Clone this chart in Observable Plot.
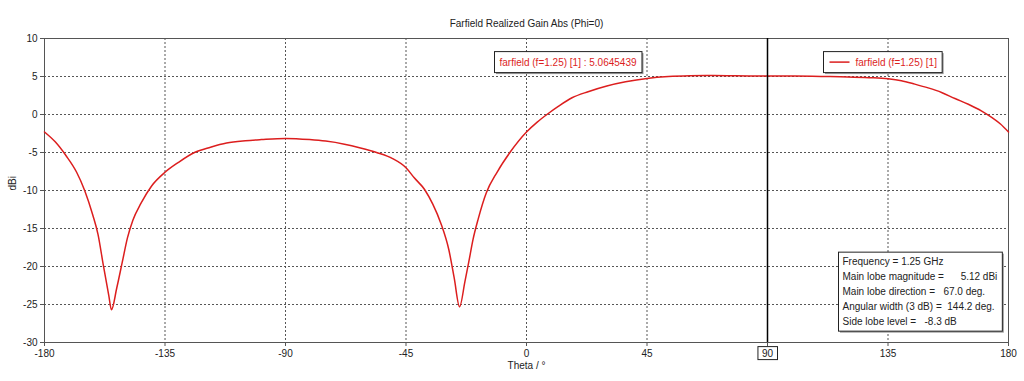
<!DOCTYPE html>
<html><head><meta charset="utf-8">
<script src="https://cdn.jsdelivr.net/npm/d3@7"></script>
<script src="https://cdn.jsdelivr.net/npm/@observablehq/plot@0.6"></script>
<style>
body{margin:0;background:#fff;}
svg text{white-space:pre;}
</style></head><body><div id="chart"></div>
<script>
const theta = [-180,-176,-172,-168,-165,-162,-160,-158,-156,-155,-153,-151,-149,-147,-144,-140,-135,-130,-124,-118,-112,-105,-99,-90,-81,-75,-68,-62,-56,-50,-45,-42,-38,-35,-32,-29,-27,-25,-23,-21.5,-20,-18,-15,-11,-6,0,4,8,12,17,23,30,37,45,53,61,67,75,83,90,100,110,120,128,135,140,145,150,155,160,165,170,174,177,180];
const gain = [-2.3,-3.6,-5.4,-7.6,-10.0,-13.2,-15.8,-19.9,-23.8,-25.7,-22.8,-19.5,-16.2,-13.9,-11.7,-9.4,-7.6,-6.3,-5.0,-4.3,-3.75,-3.45,-3.3,-3.15,-3.3,-3.5,-3.9,-4.4,-5.0,-5.8,-7.0,-8.3,-9.9,-11.8,-14.3,-17.8,-21.5,-25.3,-22.0,-19.3,-16.5,-13.7,-10.3,-7.6,-4.9,-2.3,-1.0,0.1,1.1,2.2,3.0,3.75,4.3,4.75,5.0,5.1,5.12,5.1,5.08,5.06,5.05,5.0,4.95,4.85,4.7,4.45,4.0,3.5,2.9,2.1,1.35,0.45,-0.45,-1.25,-2.3];
const xTicks = [-180,-135,-90,-45,0,45,90,135,180];
const yTicks = [10,5,0,-5,-10,-15,-20,-25,-30];
const markerTheta = 90;
const title = "Farfield Realized Gain Abs (Phi=0)";
const xLabel = "Theta / °";
const yLabel = "dBi";
const seriesName = "farfield (f=1.25) [1]";
const readoutValue = "5.0645439";
const infoLines = [
  "Frequency = 1.25 GHz",
  "Main lobe magnitude =      5.12 dBi",
  "Main lobe direction =   67.0 deg.",
  "Angular width (3 dB) =  144.2 deg.",
  "Side lobe level =   -8.3 dB"
];

const data = theta.map((t, i) => ({theta: t, gain: gain[i]}));
const font = "'Liberation Sans', Arial, sans-serif";
const red = "#dc1e1e";
const ink = "#222";
const grid = {stroke: "#444", strokeDasharray: "2,2", strokeWidth: 1, strokeOpacity: 0.9};

const chart = Plot.plot({
  width: 1024, height: 381,
  marginLeft: 44, marginRight: 16, marginTop: 38, marginBottom: 39,
  style: {fontFamily: font, fontSize: "10px", background: "#fff", color: ink},
  x: {domain: [-180, 180], label: null},
  y: {domain: [-30, 10], label: null},
  marks: [
    Plot.ruleX(xTicks.slice(1, -1), grid),
    Plot.ruleY(yTicks.slice(1, -1), grid),
    Plot.frame({stroke: "#555"}),
    Plot.axisX({ticks: xTicks, tickSize: 4, tickPadding: 3, stroke: "#555", fill: ink, label: null, tickFormat: d => String(d)}),
    Plot.axisY({ticks: yTicks, tickSize: 4, tickPadding: 3, stroke: "#555", fill: ink, label: null, tickFormat: d => String(d)}),
    Plot.line(data, {x: "theta", y: "gain", stroke: red, strokeWidth: 1.5, curve: "monotone-x"}),
    Plot.ruleX([markerTheta], {stroke: "#000", strokeWidth: 1.5}),
    Plot.text([title], {frameAnchor: "top", dy: -19, fill: ink, fontSize: 10}),
    Plot.text([xLabel], {frameAnchor: "bottom", dy: 26, fill: ink, fontSize: 10}),
    Plot.text([yLabel], {frameAnchor: "left", dx: -32, rotate: -90, fill: ink, fontSize: 10}),
    Plot.text([`${seriesName} : ${readoutValue}`], {frameAnchor: "top-left", dx: 455, dy: 20, textAnchor: "start", fill: red, fontSize: 10, ariaDescription: "readout"}),
    Plot.text([seriesName], {frameAnchor: "top-left", dx: 811, dy: 20, textAnchor: "start", fill: red, fontSize: 10, ariaDescription: "legend"}),
    Plot.text([infoLines.join("\n")], {frameAnchor: "top-left", dx: 798, dy: 216, textAnchor: "start", lineAnchor: "top", lineHeight: 1.5, fill: ink, fontSize: 10, ariaDescription: "info"})
  ]
});
document.getElementById("chart").appendChild(chart);

const svg = d3.select(chart);
const NS = "http://www.w3.org/2000/svg";
function boxAround(g, padL, padR, padT, padB) {
  const node = g.node();
  if (!node) return;
  const b = node.getBBox();
  const x = b.x - padL, y = b.y - padT, w = b.width + padL + padR, h = b.height + padT + padB;
  const shadow = document.createElementNS(NS, "rect");
  d3.select(shadow).attr("x", x + 1.5).attr("y", y + 1.5).attr("width", w).attr("height", h).attr("fill", "#999");
  const r = document.createElementNS(NS, "rect");
  d3.select(r).attr("x", x).attr("y", y).attr("width", w).attr("height", h).attr("fill", "#fff").attr("stroke", "#222").attr("stroke-width", 1);
  node.insertBefore(r, node.firstChild);
  node.insertBefore(shadow, node.firstChild);
}
boxAround(svg.select('g[aria-description="readout"]'), 5, 5, 5, 5);
const lg = svg.select('g[aria-description="legend"]');
if (lg.node()) {
  const lb = lg.node().getBBox();
  boxAround(lg, 32, 5, 5, 5);
  lg.append("line").attr("x1", lb.x - 26).attr("x2", lb.x - 6).attr("y1", lb.y + lb.height / 2).attr("y2", lb.y + lb.height / 2).attr("stroke", red).attr("stroke-width", 1.5);
}
boxAround(svg.select('g[aria-description="info"]'), 4, 5, 4, 4);
svg.selectAll('g[aria-label="x-axis tick label"] text').each(function() {
  if (this.textContent.trim() === String(markerTheta)) {
    const b = this.getBBox();
    const r = document.createElementNS(NS, "rect");
    d3.select(r).attr("x", b.x - 4).attr("y", b.y - 1).attr("width", b.width + 8).attr("height", b.height + 2)
      .attr("fill", "#fff").attr("stroke", "#222");
    const tf = this.getAttribute("transform");
    if (tf) r.setAttribute("transform", tf);
    this.parentNode.insertBefore(r, this);
  }
});
</script></body></html>
